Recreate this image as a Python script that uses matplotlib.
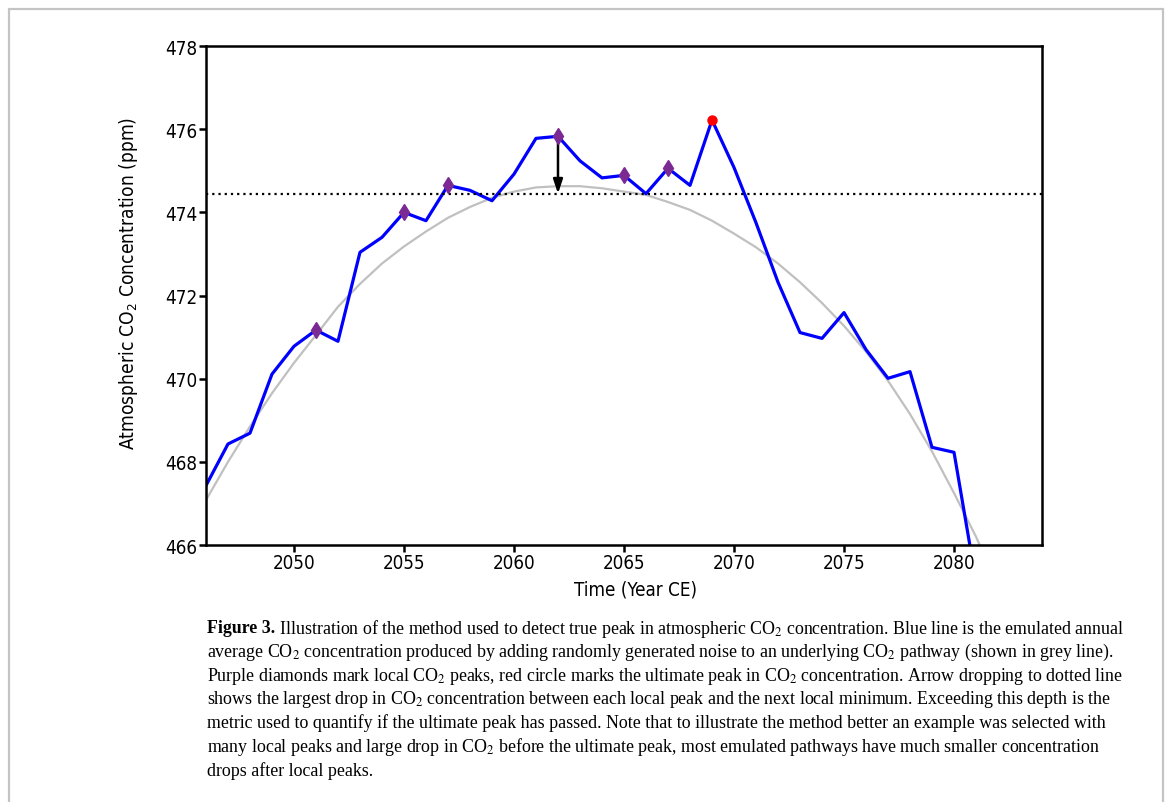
import matplotlib.pyplot as plt
from matplotlib.patches import Rectangle


# annual emulated CO2 (ppm)
years = list(range(2046, 2082))
co2 = [467.43, 468.43, 468.69, 470.11, 470.78, 471.17, 470.90, 473.04,
       473.40, 474.00, 473.80, 474.65, 474.53, 474.28, 474.92, 475.78,
       475.83, 475.24, 474.83, 474.89, 474.45, 475.06, 474.65, 476.22,
       475.08, 473.75, 472.32, 471.11, 470.97, 471.59, 470.70, 470.01,
       470.17, 468.35, 468.23, 465.13]

# underlying pathway (ppm)
path_years = list(range(2046, 2083))
path_co2 = [467.08, 468.00, 468.85, 469.65, 470.38, 471.05, 471.73, 472.28,
            472.77, 473.18, 473.54, 473.87, 474.13, 474.35, 474.50, 474.60,
            474.63, 474.63, 474.58, 474.50, 474.42, 474.25, 474.06, 473.80,
            473.49, 473.16, 472.77, 472.32, 471.82, 471.27, 470.65, 469.95,
            469.15, 468.25, 467.25, 466.20, 465.00]

local_peaks = [2051, 2055, 2057, 2062, 2065, 2067]
ultimate_peak = 2069
drop_from = 2062
drop_level = 474.45

xticks = [2050, 2055, 2060, 2065, 2070, 2075, 2080]
yticks = [466, 468, 470, 472, 474, 476, 478]

caption_head = "Figure 3."
caption = [
    r" Illustration of the method used to detect true peak in atmospheric CO$_2$ concentration. Blue line is the emulated annual",
    r"average CO$_2$ concentration produced by adding randomly generated noise to an underlying CO$_2$ pathway (shown in grey line).",
    r"Purple diamonds mark local CO$_2$ peaks, red circle marks the ultimate peak in CO$_2$ concentration. Arrow dropping to dotted line",
    r"shows the largest drop in CO$_2$ concentration between each local peak and the next local minimum. Exceeding this depth is the",
    r"metric used to quantify if the ultimate peak has passed. Note that to illustrate the method better an example was selected with",
    r"many local peaks and large drop in CO$_2$ before the ultimate peak, most emulated pathways have much smaller concentration",
    r"drops after local peaks.",
]

plt.rcParams['font.family'] = 'DejaVu Sans'
plt.rcParams['font.stretch'] = 'condensed'

fig = plt.figure(figsize=(11.67, 8.03), dpi=100)
ax = fig.add_axes([0.1765, 0.3200, 0.7164, 0.6214])

ax.plot(path_years, path_co2, color='#c0c0c0', lw=1.6, zorder=1)
ax.plot(years, co2, color='#0000ff', lw=2.3, zorder=2)
ax.axhline(drop_level, color='black', lw=1.6, linestyle=(0, (1, 1.8)), zorder=3)

peak_y = co2[years.index(drop_from)]
ax.annotate('', xy=(drop_from, drop_level), xytext=(drop_from, peak_y),
            arrowprops=dict(arrowstyle='-|>,head_length=0.6,head_width=0.2',
                            color='black', lw=1.8, mutation_scale=14,
                            shrinkA=0, shrinkB=0),
            zorder=4)

ax.plot(local_peaks, [co2[years.index(y)] for y in local_peaks], linestyle='none',
        marker='d', ms=8, color='#7b2a94', zorder=5)
ax.plot([ultimate_peak], [co2[years.index(ultimate_peak)]], linestyle='none',
        marker='o', ms=6.5, color='#ff0000', zorder=6)

ax.set_xlim(2046, 2084)
ax.set_ylim(466, 478)
ax.set_xticks(xticks)
ax.set_yticks(yticks)
for s in ax.spines.values():
    s.set_linewidth(1.8)
ax.tick_params(direction='out', length=5, width=1.8, labelsize=13.5, pad=1)

ax.set_xlabel('Time (Year CE)', fontsize=13.5)
ax.xaxis.set_label_coords(0.514, -0.07)
ax.set_ylabel(r'Atmospheric CO$_2$ Concentration (ppm)', fontsize=13.8)
ax.yaxis.set_label_coords(-0.079, 0.527)

# caption below the plot
cap_x = 207 / 1167
cap_kw = dict(va='center', fontsize=12.9, family='Liberation Serif', stretch='normal',
              math_fontfamily='stix')
head = fig.text(cap_x, 1 - 629 / 803, caption_head, ha='left', weight='bold', **cap_kw)
fig.canvas.draw()
head_w = head.get_window_extent().width / fig.bbox.width
for i, line in enumerate(caption):
    x = cap_x + head_w if i == 0 else cap_x
    fig.text(x, 1 - (629 + i * 23.6) / 803, line, ha='left', **cap_kw)

# thin frame round the figure
fig.patches.append(Rectangle((9 / 1167, -0.05), (1163 - 9) / 1167, 1.05 - 10 / 803,
                             transform=fig.transFigure, fill=False,
                             edgecolor='#c4c4c4', lw=1.6))

plt.savefig('out.png', dpi=100)
